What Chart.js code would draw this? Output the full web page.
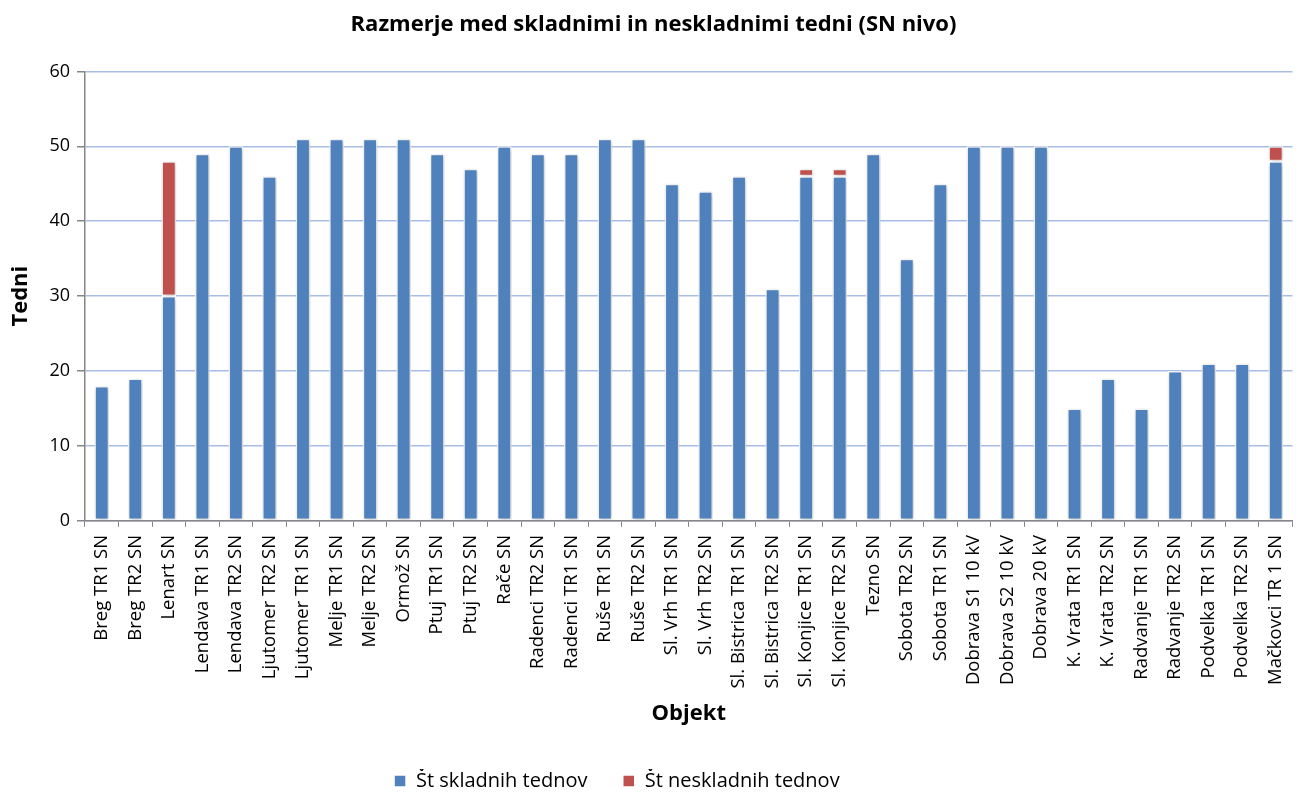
<!DOCTYPE html>
<html>
  <head>
    <meta charset="UTF-8" />
    <title>Razmerje med skladnimi in neskladnimi tedni</title>
    <style>
      * {
        margin: 0;
        padding: 0;
        box-sizing: border-box;
      }

      body {
        background-color: #fff;
      }

      #wrap {
        width: 1306px;
        height: 797px;
      }
    </style>
  </head>
  <body>
    <div id="wrap">
      <canvas id="chart" width="1306" height="797"></canvas>
    </div>

    <script src="https://cdn.jsdelivr.net/npm/chart.js"></script>
    <script>
      const objekti = [
        "Breg TR1 SN", "Breg TR2 SN", "Lenart SN", "Lendava TR1 SN", "Lendava TR2 SN",
        "Ljutomer TR2 SN", "Ljutomer TR1 SN", "Melje TR1 SN", "Melje TR2 SN", "Ormož SN",
        "Ptuj TR1 SN", "Ptuj TR2 SN", "Rače SN", "Radenci TR2 SN", "Radenci TR1 SN",
        "Ruše TR1 SN", "Ruše TR2 SN", "Sl. Vrh TR1 SN", "Sl. Vrh TR2 SN", "Sl. Bistrica TR1 SN",
        "Sl. Bistrica TR2 SN", "Sl. Konjice TR1 SN", "Sl. Konjice TR2 SN", "Tezno SN", "Sobota TR2 SN",
        "Sobota TR1 SN", "Dobrava S1 10 kV", "Dobrava S2 10 kV", "Dobrava 20 kV", "K. Vrata TR1 SN",
        "K. Vrata TR2 SN", "Radvanje TR1 SN", "Radvanje TR2 SN", "Podvelka TR1 SN", "Podvelka TR2 SN",
        "Mačkovci TR 1 SN",
      ];

      const skladni = [
        18, 19, 30, 49, 50, 46, 51, 51, 51, 51,
        49, 47, 50, 49, 49, 51, 51, 45, 44, 46,
        31, 46, 46, 49, 35, 45, 50, 50, 50, 15,
        19, 15, 20, 21, 21, 48,
      ];

      const neskladni = [
        0, 0, 18, 0, 0, 0, 0, 0, 0, 0,
        0, 0, 0, 0, 0, 0, 0, 0, 0, 0,
        0, 1, 1, 0, 0, 0, 0, 0, 0, 0,
        0, 0, 0, 0, 0, 2,
      ];

      const yTicks = [0, 10, 20, 30, 40, 50, 60];

      const font = "'Open Sans', 'Noto Sans', sans-serif";

      // rahla senca za stolpce (kot v Excelu)
      const barShadow = {
        id: "barShadow",
        beforeDatasetsDraw(chart) {
          const c = chart.ctx;
          c.save();
          c.shadowColor = "rgba(0, 0, 0, 0.25)";
          c.shadowBlur = 5;
          c.shadowOffsetX = 1;
          c.shadowOffsetY = 1;
        },
        afterDatasetsDraw(chart) {
          chart.ctx.restore();
        },
      };

      new Chart(document.getElementById("chart"), {
        type: "bar",
        data: {
          labels: objekti,
          datasets: [
            {
              label: "Št skladnih tednov",
              data: skladni,
              backgroundColor: "#4f81bd",
              borderColor: "#ffffff",
              borderWidth: 1.5,
              borderSkipped: false,
              barPercentage: 0.44,
              categoryPercentage: 1,
            },
            {
              label: "Št neskladnih tednov",
              data: neskladni,
              backgroundColor: "#c0504d",
              borderColor: "#ffffff",
              borderWidth: 1.5,
              borderSkipped: false,
              barPercentage: 0.44,
              categoryPercentage: 1,
            },
          ],
        },
        plugins: [barShadow],
        options: {
          responsive: false,
          animation: false,
          layout: {
            padding: { left: 4, right: 3, top: 4, bottom: -4 },
          },
          plugins: {
            title: {
              display: true,
              text: "Razmerje med skladnimi in neskladnimi tedni (SN nivo)",
              color: "#000",
              font: { family: font, size: 22, weight: "bold" },
              padding: { top: 8, bottom: 33 },
            },
            legend: {
              position: "bottom",
              labels: {
                color: "#000",
                font: { family: font, size: 20 },
                boxWidth: 12,
                boxHeight: 12,
                padding: 2,
                // razmik med elementoma in zamik legende v levo
                generateLabels(chart) {
                  const items = Chart.defaults.plugins.legend.labels.generateLabels(chart);
                  items[0].text += "\u2003\u2002\u2009";
                  items[1].text += "\u2003\u2003\u2003\u2002\u2009";
                  return items;
                },
              },
            },
            tooltip: { enabled: false },
          },
          scales: {
            x: {
              stacked: true,
              grid: {
                offset: true,
                drawOnChartArea: false,
                drawTicks: true,
                tickLength: 6,
                color: "#868686",
              },
              border: { color: "#868686", width: 1.5 },
              ticks: {
                color: "#000",
                font: { family: font, size: 18.5 },
                padding: 8,
                maxRotation: 90,
                minRotation: 90,
                autoSkip: false,
              },
              title: {
                display: true,
                text: "Objekt",
                color: "#000",
                font: { family: font, size: 22, weight: "bold" },
                padding: { top: 4, bottom: 42 },
              },
            },
            y: {
              stacked: true,
              min: 0,
              max: 60,
              afterBuildTicks(axis) {
                axis.ticks = yTicks.map((v) => ({ value: v }));
              },
              grid: {
                color: "#a7bde5",
                lineWidth: 1.5,
                tickLength: 8,
                tickColor: "#868686",
              },
              border: { color: "#868686", width: 1.5 },
              ticks: {
                color: "#000",
                font: { family: font, size: 18 },
                padding: 7,
              },
              title: {
                display: true,
                text: "Tedni",
                color: "#000",
                font: { family: font, size: 22, weight: "bold" },
                padding: { bottom: 8 },
              },
            },
          },
        },
      });
    </script>
  </body>
</html>
